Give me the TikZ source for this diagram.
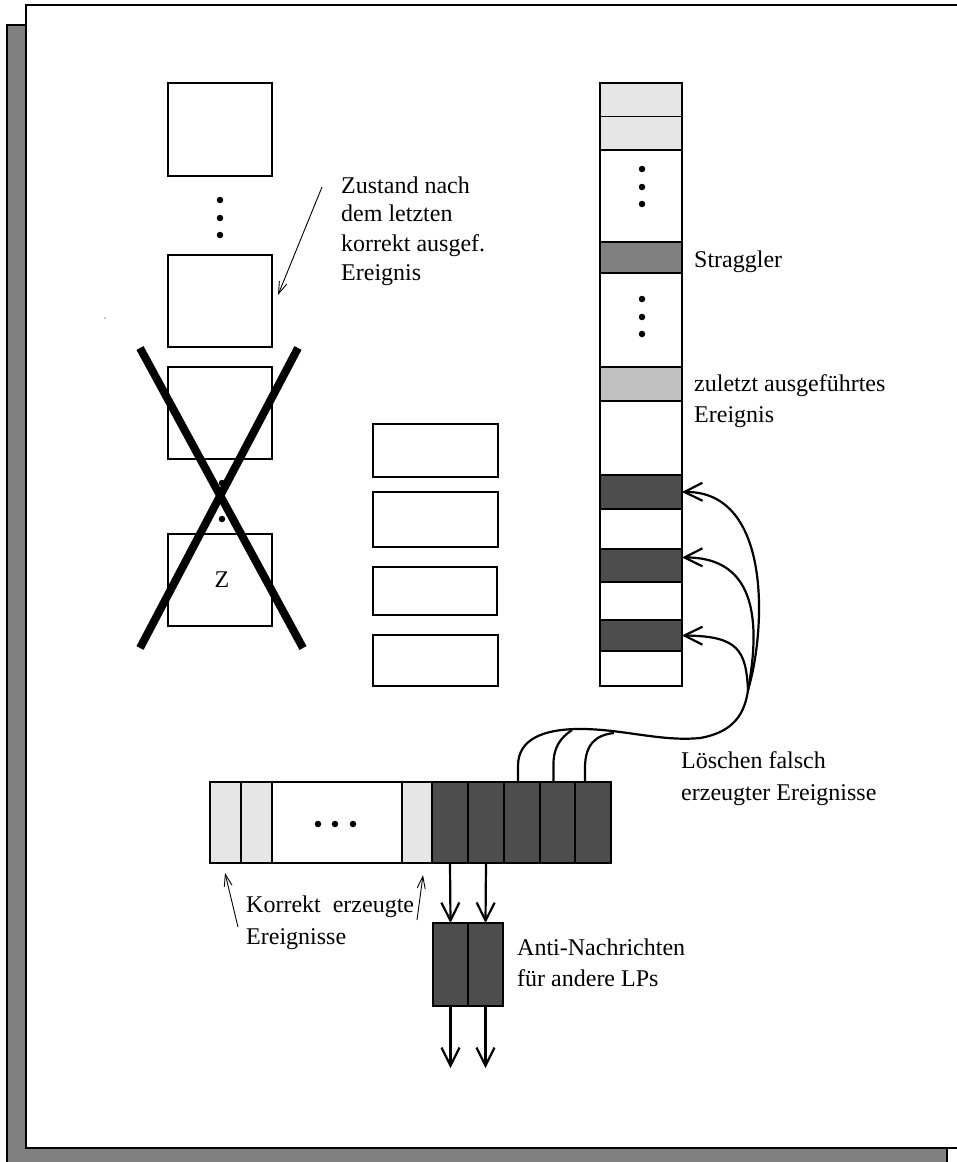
\documentclass[tikz,border=0pt]{standalone}
\usepackage{fontspec}
\setmainfont{Liberation Serif}
\usetikzlibrary{arrows.meta,calc}
\definecolor{lg}{HTML}{E6E6E6}
\definecolor{mg}{HTML}{C0C0C0}
\definecolor{sg}{HTML}{808080}
\definecolor{dg}{HTML}{4D4D4D}
\begin{document}
\begin{tikzpicture}[x=1pt,y=-1pt,
  every node/.style={font=\fontsize{24}{29}\selectfont},
  sq/.style={draw, line width=1.3pt, inner sep=0pt, outer sep=0pt},
  lbl/.style={anchor=base west, inner sep=0pt},
  bigarr/.style={line width=2.2pt, -{Straight Barb[length=18pt,width=18pt,line width=2.2pt]}},
  thinarr/.style={line width=0.9pt, -{Straight Barb[length=12pt,width=8pt,line width=0.9pt]}},
  curve/.style={line width=2.2pt},
  dot/.style={fill=black, circle, inner sep=0pt, minimum size=6.5pt}]
\useasboundingbox (0,0) rectangle (957,1162);
\clip (0,0) rectangle (957,1162);
% frame
\fill[sg, draw=black, line width=1.5pt] (7,25) rectangle (947,1180);
\fill[white, draw=black, line width=2pt] (26,5) rectangle (980,1148);
\fill (105,318) circle (0.7pt);
% left stack
\node[sq, minimum width=104pt, minimum height=93pt] (b1) at (220,129.5) {};
\node[sq, minimum width=104pt, minimum height=92pt] (b2) at (220,301) {};
\node[sq, minimum width=104pt, minimum height=92pt] (b3) at (220,413) {};
\node[sq, minimum width=104pt, minimum height=92pt] (b4) at (220,580) {};
\node (z) at (222,580) {Z};
\foreach \yy [count=\i] in {200,218,235} \node[dot] (ld\i) at (220,\yy) {};
\foreach \yy [count=\i] in {483,501,519} \node[dot] (md\i) at (222,\yy) {};
% cross
\coordinate (x1a) at (140,348); \coordinate (x1b) at (303,648);
\coordinate (x2a) at (298,348); \coordinate (x2b) at (140,648);
\draw[line width=8pt] (x1a) -- (x1b);
\draw[line width=8pt] (x2a) -- (x2b);
% label top left
\node[lbl] (t1) at (341,193) {Zustand nach};
\node[lbl] (t2) at (341,221) {dem letzten};
\node[lbl] (t3) at (341,251) {korrekt ausgef.};
\node[lbl] (t4) at (341,280) {Ereignis};
\coordinate (zs) at (322,187);
\coordinate (ze) at (278,295);
\draw[thinarr] (zs) -- (ze);
% middle boxes
\node[sq, minimum width=125pt, minimum height=53pt] (m1) at (435.5,450.5) {};
\node[sq, minimum width=125pt, minimum height=55pt] (m2) at (435.5,519.5) {};
\node[sq, minimum width=124pt, minimum height=48pt] (m3) at (435,591) {};
\node[sq, minimum width=125pt, minimum height=51pt] (m4) at (435.5,660.5) {};
% right column
\foreach \ya/\yb/\cc [count=\i] in {83/116.7/lg,116.7/150/lg,150/242/white,242/273/sg,273/367/white,367/401/mg,401/475/white,475/509/dg,509/549/white,549/582/dg,582/620/white,620/651/dg,651/686/white}
  \node[sq, fill=\cc, minimum width=82pt, minimum height={\yb-\ya}] (c\i) at (641,{(\ya+\yb)/2}) {};
\foreach \yy [count=\i] in {169,187,204} \node[dot] (cd\i) at (642,\yy) {};
\foreach \yy [count=\i] in {299,317,334} \node[dot] (ce\i) at (642,\yy) {};
\node[lbl] (s1) at (694,267) {Straggler};
\node[lbl] (s2) at (694,391) {zuletzt ausgeführtes};
\node[lbl] (s3) at (694,422) {Ereignis};
% bottom buffer
\foreach \xa/\xb/\cc [count=\i] in {210/241/lg,241/272/lg,272/402/white,402/432/lg}
  \node[sq, fill=\cc, minimum width={\xb-\xa}, minimum height=81pt] (g\i) at ({(\xa+\xb)/2},822.5) {};
\foreach \xa/\xb [count=\i] in {432/468,468/504,504/540,540/575,575/611}
  \node[sq, fill=dg, minimum width={\xb-\xa}, minimum height=81pt] (d\i) at ({(\xa+\xb)/2},822.5) {};
\foreach \xx [count=\i] in {318,335,353} \node[dot] (bd\i) at (\xx,824) {};
% anti-messages
\node[sq, fill=dg, minimum width=35pt, minimum height=83pt] (a1) at (450.5,964.5) {};
\node[sq, fill=dg, minimum width=35pt, minimum height=83pt] (a2) at (485.5,964.5) {};
\draw[bigarr] (d1.south) -- (a1.north);
\draw[bigarr] (d2.south) -- (a2.north);
\coordinate (o1) at (450.5,1068);
\coordinate (o2) at (485.5,1068);
\draw[bigarr] (a1.south) -- (o1);
\draw[bigarr] (a2.south) -- (o2);
\node[lbl] (an1) at (517,955) {Anti-Nachrichten};
\node[lbl] (an2) at (517,986) {für andere LPs};
% correct events label
\node[lbl] (k1) at (246,912) {Korrekt\ \ erzeugte};
\node[lbl] (k2) at (246,944) {Ereignisse};
\coordinate (ka) at (238,927); \coordinate (kat) at (225,873);
\coordinate (kb) at (417,920); \coordinate (kbt) at (423,875);
\draw[thinarr] (ka) -- (kat);
\draw[thinarr] (kb) -- (kbt);
% deletion curves
\coordinate (J) at (748,690);
\coordinate (p1) at ([xshift=-4pt]d3.north);
\coordinate (p2) at ([xshift=-4pt]d4.north);
\coordinate (p3) at ([xshift=-8pt]d5.north);
\draw[curve] (p1) -- ++(0,-16) .. controls (518,738) and (545,730) .. (575,729)
  .. controls (620,728) and (660,742) .. (700,738)
  .. controls (735,732) and (745,712) .. (J);
\draw[curve] (p2) -- ++(0,-16) .. controls (553,748) and (560,738) .. (572,730);
\draw[curve] (p3) -- ++(0,-14) .. controls (585,745) and (595,735) .. (614,733);
\draw[bigarr] (J) .. controls (766,630) and (772,491) .. (c8.east);
\draw[bigarr] (J) .. controls (760,625) and (758,557) .. ([yshift=8pt]c10.east);
\draw[bigarr] (J) .. controls (746,650) and (738,636) .. (c12.east);
\node[lbl] (l1) at (681,768) {Löschen falsch};
\node[lbl] (l2) at (681,800) {erzeugter Ereignisse};
\end{tikzpicture}
\end{document}
